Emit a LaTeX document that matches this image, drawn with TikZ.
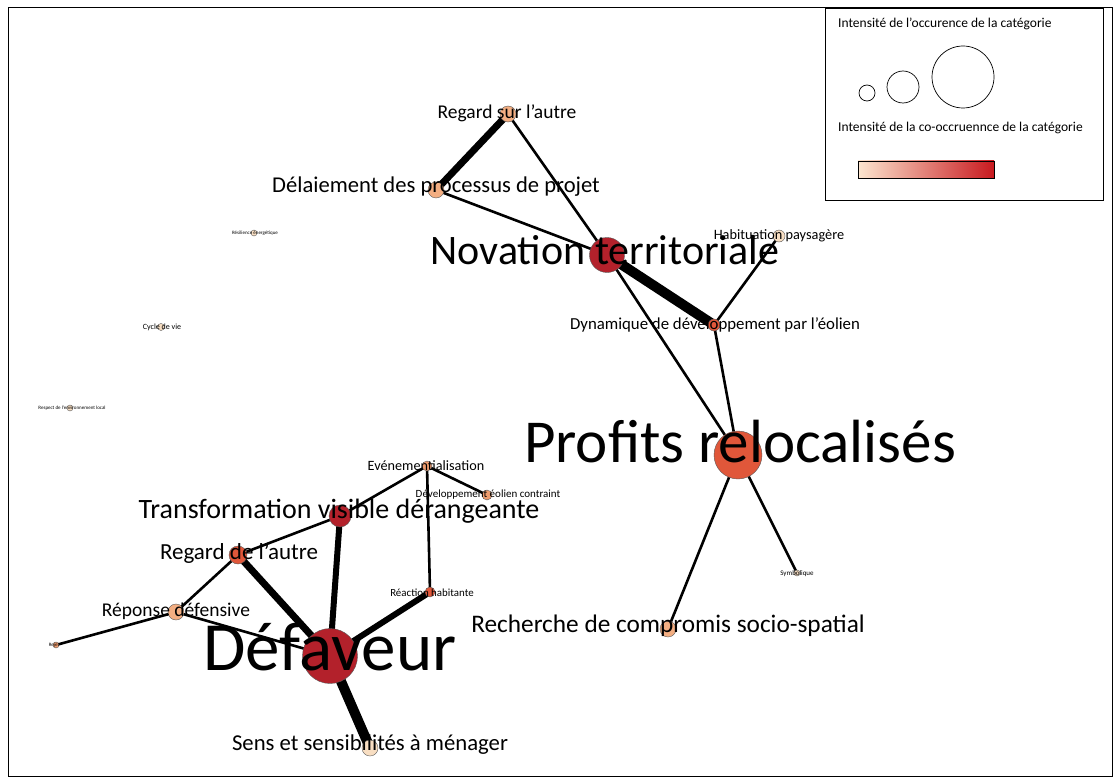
\documentclass[tikz,border=0pt]{standalone}
\usepackage{fontspec}
\setmainfont{Carlito}
\definecolor{catdark}{HTML}{B3212B}
\definecolor{catred}{HTML}{E0573A}
\definecolor{catmid}{HTML}{EE9C6E}
\definecolor{catlight}{HTML}{F3AE82}
\definecolor{catpale}{HTML}{F8DEC2}
\definecolor{barlow}{HTML}{FCE6CF}
\definecolor{barhigh}{HTML}{C8191F}
\newcommand{\fsz}[1]{\fontsize{#1}{#1}\selectfont}

\begin{document}
\begin{tikzpicture}[x=1pt,y=-1pt,
  cat/.style={circle,draw=black!65,line width=0.4pt,inner sep=0pt},
  edge/.style={line width=2.6pt,line cap=round},
  lbl/.style={inner sep=0pt,anchor=center}]

  \useasboundingbox (0,0) rectangle (1115,778);
  \fill[white] (0,0) rectangle (1115,778);
  \draw[line width=1pt] (8,8) rectangle (1112,776);

  % =====================================================================
  % 1. CATEGORY POSITIONS
  % =====================================================================

  \coordinate (regsur) at (508,114);
  \coordinate (delai) at (436,190);
  \coordinate (novat) at (607,255);
  \coordinate (habit) at (779,236);
  \coordinate (dynam) at (714,325);
  \coordinate (profit) at (738,455);
  \coordinate (symbo) at (797,573);
  \coordinate (compro) at (668,629);
  \coordinate (defav) at (330,656);
  \coordinate (sens) at (370,748);
  \coordinate (transf) at (340,516);
  \coordinate (evene) at (427,466);
  \coordinate (devcon) at (487,495);
  \coordinate (reacth) at (430,592);
  \coordinate (regde) at (238,555);
  \coordinate (repdef) at (176,612);
  \coordinate (rejet) at (56,645);
  \coordinate (cycle) at (161,327);
  \coordinate (energ) at (254,233);
  \coordinate (respec) at (70,408);

  % =====================================================================
  % 2. CO-OCCURRENCES
  % =====================================================================

  \draw[edge,line width=7pt] (regsur) -- (delai);
  \draw[edge] (regsur) -- (novat);
  \draw[edge] (delai) -- (novat);
  \draw[edge,line width=10pt] (novat) -- (dynam);
  \draw[edge] (novat) -- (profit);
  \draw[edge] (habit) -- (dynam);
  \draw[edge] (dynam) -- (profit);
  \draw[edge] (profit) -- (symbo);
  \draw[edge] (profit) -- (compro);

  \draw[edge,line width=10pt] (defav) -- (sens);
  \draw[edge,line width=6pt] (defav) -- (transf);
  \draw[edge,line width=7pt] (defav) -- (regde);
  \draw[edge,line width=6pt] (defav) -- (reacth);
  \draw[edge] (defav) -- (repdef);
  \draw[edge] (transf) -- (regde);
  \draw[edge] (transf) -- (evene);
  \draw[edge] (evene) -- (devcon);
  \draw[edge] (evene) -- (reacth);
  \draw[edge] (regde) -- (repdef);
  \draw[edge] (repdef) -- (rejet);

  % =====================================================================
  % 3. CATEGORIES
  % =====================================================================

  \node[cat,minimum size=16pt,fill=catlight] (regsur-c) at (regsur) {};
  \node[cat,minimum size=16pt,fill=catlight] (delai-c) at (delai) {};
  \node[cat,minimum size=35pt,fill=catdark] (novat-c) at (novat) {};
  \node[cat,minimum size=12pt,fill=catpale] (habit-c) at (habit) {};
  \node[cat,minimum size=12pt,fill=catred] (dynam-c) at (dynam) {};
  \node[cat,minimum size=48pt,fill=catred] (profit-c) at (profit) {};
  \node[cat,minimum size=6pt,fill=catpale] (symbo-c) at (symbo) {};
  \node[cat,minimum size=16pt,fill=catlight] (compro-c) at (compro) {};
  \node[cat,minimum size=55pt,fill=catdark] (defav-c) at (defav) {};
  \node[cat,minimum size=16pt,fill=catpale] (sens-c) at (sens) {};
  \node[cat,minimum size=22pt,fill=catdark] (transf-c) at (transf) {};
  \node[cat,minimum size=10pt,fill=catmid] (evene-c) at (evene) {};
  \node[cat,minimum size=10pt,fill=catmid] (devcon-c) at (devcon) {};
  \node[cat,minimum size=10pt,fill=catred] (reacth-c) at (reacth) {};
  \node[cat,minimum size=18pt,fill=catred] (regde-c) at (regde) {};
  \node[cat,minimum size=16pt,fill=catlight] (repdef-c) at (repdef) {};
  \node[cat,minimum size=6pt,fill=catmid] (rejet-c) at (rejet) {};
  \node[cat,minimum size=7pt,fill=catpale] (cycle-c) at (cycle) {};
  \node[cat,minimum size=6pt,fill=catpale] (energ-c) at (energ) {};
  \node[cat,minimum size=6pt,fill=catpale] (respec-c) at (respec) {};

  % =====================================================================
  % 4. LABELS
  % =====================================================================

  \node[lbl,font=\fsz{19.5}] (regsur-l) at (507,113) {Regard sur l'autre};
  \node[lbl,font=\fsz{22.6}] (delai-l) at (436,187) {Délaiement des processus de projet};
  \node[lbl,font=\fsz{42}] (novat-l) at (605,250) {Novation territoriale};
  \node[lbl,font=\fsz{14.3}] (habit-l) at (779,236) {Habituation paysagère};
  \node[lbl,font=\fsz{16.8}] (dynam-l) at (715,325) {Dynamique de développement par l'éolien};
  \node[lbl,font=\fsz{61}] (profit-l) at (740,442) {Profits relocalisés};
  \node[lbl,font=\fsz{7}] (symbo-l) at (797,574) {Symbolique};
  \node[lbl,font=\fsz{25.3}] (compro-l) at (668,626) {Recherche de compromis socio-spatial};
  \node[lbl,font=\fsz{69}] (defav-l) at (330,647) {Défaveur};
  \node[lbl,font=\fsz{22.7}] (sens-l) at (370,745) {Sens et sensibilités à ménager};
  \node[lbl,font=\fsz{28}] (transf-l) at (339,511) {Transformation visible dérangeante};
  \node[lbl,font=\fsz{14.2}] (evene-l) at (426,466) {Evénementialisation};
  \node[lbl,font=\fsz{11}] (devcon-l) at (488,495) {Développement éolien contraint};
  \node[lbl,font=\fsz{10.9}] (reacth-l) at (432,593) {Réaction habitante};
  \node[lbl,font=\fsz{23}] (regde-l) at (239,553) {Regard de l'autre};
  \node[lbl,font=\fsz{19.5}] (repdef-l) at (176,611) {Réponse défensive};
  \node[lbl,font=\fsz{5}] (rejet-l) at (54,645) {Rejet};
  \node[lbl,font=\fsz{8}] (cycle-l) at (162,327) {Cycle de vie};
  \node[lbl,font=\fsz{5}] (energ-l) at (255,233) {Résilience énergétique};
  \node[lbl,font=\fsz{5}] (respec-l) at (72,408) {Respect de l'environnement local};

  % =====================================================================
  % 5. LEGEND
  % =====================================================================

  \draw[fill=white,line width=1pt] (825,9) rectangle (1103,200);
  \node[lbl,anchor=west,font=\fsz{13.5}] (leg-occ) at (838,24) {Intensité de l’occurence de la catégorie};
  \draw[line width=0.7pt] (867,93) circle (8);
  \draw[line width=0.7pt] (903,87) circle (16);
  \draw[line width=0.7pt] (963,77) circle (31);
  \node[lbl,anchor=west,font=\fsz{13.5}] (leg-cooc) at (838,128) {Intensité de la co-occruennce de la catégorie};
  \shade[left color=barlow,right color=barhigh] (858,161) rectangle (994,178);
  \draw[line width=0.6pt] (858,161) rectangle (994,178);

\end{tikzpicture}
\end{document}
